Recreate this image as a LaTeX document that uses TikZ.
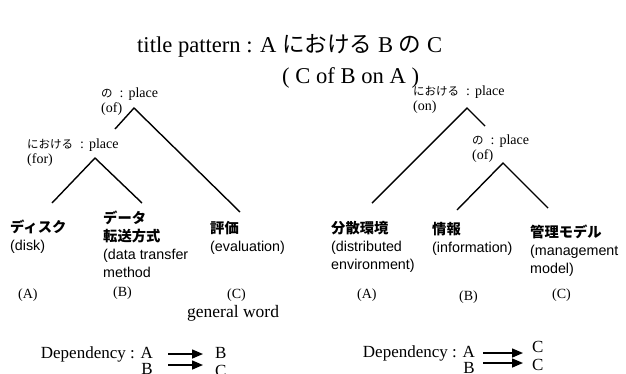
\documentclass[tikz,border=0pt]{standalone}
\usepackage{fontspec}
\setmainfont{Liberation Serif}
\setsansfont{Liberation Sans}
\newfontfamily\jp{Noto Sans CJK JP}
\usetikzlibrary{arrows.meta}

% small Japanese word inside a serif place label
\newcommand{\jpword}[1]{{\jp\fontsize{11.5}{15}\selectfont #1}\hspace{7pt}:\hspace{5pt}}

\begin{document}
\begin{tikzpicture}[x=1pt, y=-1pt,
    tree/.style={line width=1.4pt},
    place/.style={anchor=north west, inner sep=0, align=left, font=\fontsize{14}{15}\selectfont},
    leaf/.style={anchor=north west, inner sep=0, align=left, font=\sffamily\fontsize{14.3}{18}\selectfont},
    tag/.style={anchor=west, inner sep=0, font=\fontsize{14}{16}\selectfont},
    dep/.style={inner sep=0, font=\fontsize{17}{19}\selectfont},
    deparrow/.style={line width=1.5pt, -{Triangle[length=11pt,width=9pt]}}]
    \useasboundingbox (0,0) rectangle (626,373);

    % title
    \node[anchor=west, inner sep=0, font=\fontsize{22.6}{24}\selectfont] (title) at (137,46)
        {title pattern : A {\jp における} B {\jp の} C};
    \node[anchor=west, inner sep=0, font=\fontsize{22.6}{24}\selectfont] (subtitle) at (282,78)
        {( C of B on A )};

    % left tree : A における B の C
    \node[place] (lof) at (101,88) {\jpword{の}place\\(of)};
    \node[place] (lfor) at (27,139) {\jpword{における}place\\(for)};
    \coordinate (lofTop) at (134,108);
    \coordinate (lofEnd) at (115,129);
    \coordinate (lforTop) at (95,158);
    \draw[tree] (lofEnd) -- (lofTop) -- (240,212);
    \draw[tree] (52,203) -- (lforTop) -- (142,203);

    \node[leaf] (disk) at (10,220) {{\jp\bfseries ディスク}\\(disk)};
    \node[leaf] (data) at (103,211) {{\jp\bfseries データ}\\{\jp\bfseries 転送方式}\\(data transfer\\method};
    \node[leaf] (eval) at (210,221) {{\jp\bfseries 評価}\\(evaluation)};

    \node[tag] (lA) at (18,295) {(A)};
    \node[tag] (lB) at (113,293) {(B)};
    \node[tag] (lC) at (227,295) {(C)};
    \node[anchor=west, inner sep=0, font=\fontsize{17.5}{19}\selectfont] (general) at (187,313) {general word};

    % right tree : C of (B on A)
    \node[place] (ron) at (413,86) {\jpword{における}place\\(on)};
    \node[place] (rof) at (472,135) {\jpword{の}place\\(of)};
    \coordinate (ronTop) at (467,108);
    \coordinate (ronEnd) at (485,126);
    \coordinate (rofTop) at (503,163);
    \draw[tree] (372,203) -- (ronTop) -- (ronEnd);
    \draw[tree] (457,210) -- (rofTop) -- (548,208);

    \node[leaf] (distrib) at (331,221) {{\jp\bfseries 分散環境}\\(distributed\\environment)};
    \node[leaf] (info) at (432,222) {{\jp\bfseries 情報}\\(information)};
    \node[leaf] (manage) at (530,225) {{\jp\bfseries 管理モデル}\\(management\\model)};

    \node[tag] (rA) at (357,295) {(A)};
    \node[tag] (rB) at (459,297) {(B)};
    \node[tag] (rC) at (552,295) {(C)};

    % dependencies
    \node[dep, anchor=base east] (ldA) at (153,358) {Dependency : A};
    \node[dep, anchor=base west] (ldB) at (215,358) {B};
    \node[dep, anchor=base east] (ldB2) at (153,374) {B};
    \node[dep, anchor=base west] (ldC) at (215,376) {C};
    \draw[deparrow] (ldA.base east) ++(15,-4) -- ++(35,0);
    \draw[deparrow] (ldB2.base east) ++(15,-9) -- ++(35,0);

    \node[dep, anchor=base east] (rdA) at (475,357) {Dependency : A};
    \node[dep, anchor=base west] (rdC) at (532,352) {C};
    \node[dep, anchor=base east] (rdB) at (475,373) {B};
    \node[dep, anchor=base west] (rdC2) at (532,370) {C};
    \draw[deparrow] (rdA.base east) ++(8,-4) -- ++(40,0);
    \draw[deparrow] (rdB.base east) ++(8,-10) -- ++(40,0);
\end{tikzpicture}
\end{document}
